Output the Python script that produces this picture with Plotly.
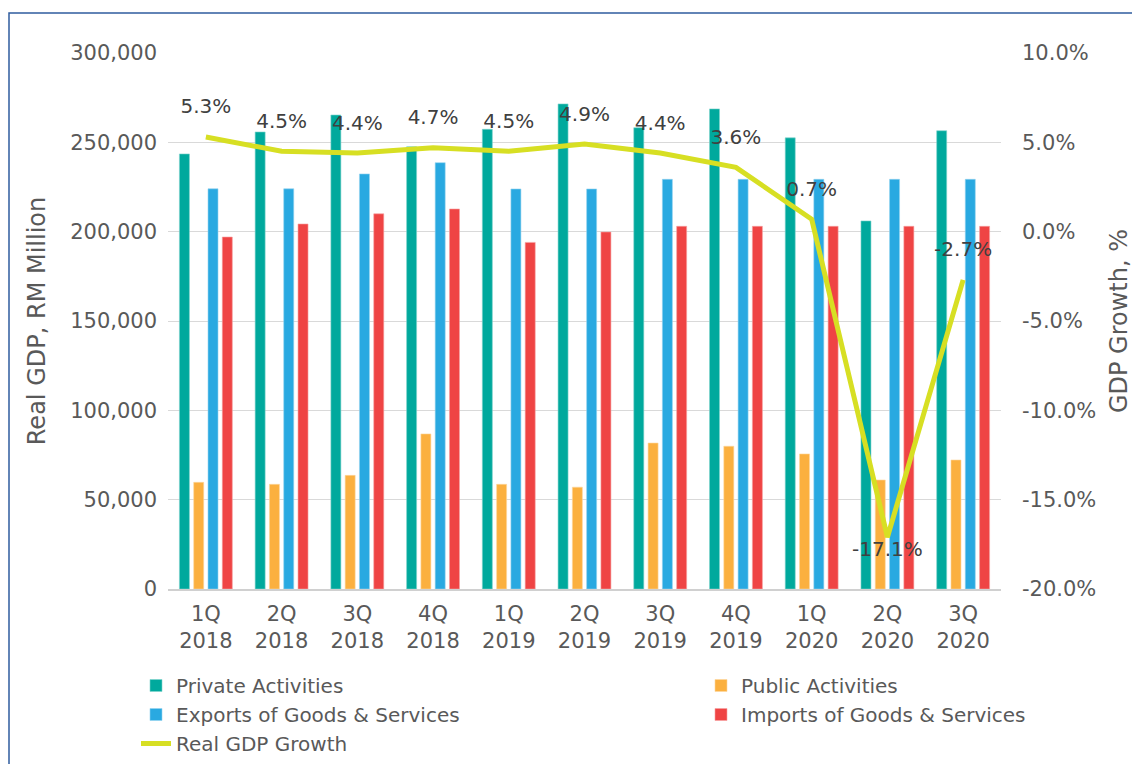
import plotly.graph_objects as go

quarters = ["1Q<br>2018", "2Q<br>2018", "3Q<br>2018", "4Q<br>2018",
            "1Q<br>2019", "2Q<br>2019", "3Q<br>2019", "4Q<br>2019",
            "1Q<br>2020", "2Q<br>2020", "3Q<br>2020"]
private_activities = [243500, 255800, 265300, 247500, 257300, 271500, 258200, 268700, 252500, 206000, 256500]
public_activities = [59700, 58600, 63600, 86800, 58600, 57000, 81700, 79900, 75600, 61000, 72200]
exports_gs = [224000, 224000, 232300, 238600, 223900, 223900, 229300, 229300, 229300, 229300, 229300]
imports_gs = [197000, 204300, 210000, 212700, 194000, 199800, 203000, 203000, 203000, 203000, 203000]
gdp_growth = [5.3, 4.5, 4.4, 4.7, 4.5, 4.9, 4.4, 3.6, 0.7, -17.1, -2.7]
growth_labels = [f"{v:.1f}%" for v in gdp_growth]

left_ticks = [0, 50000, 100000, 150000, 200000, 250000, 300000]
right_ticks = [-20, -15, -10, -5, 0, 5, 10]
right_tick_text = [f"{v:.1f}%" for v in right_ticks]

FONT = "DejaVu Sans"
GREY = "#595959"

fig = go.Figure()
fig.add_trace(go.Bar(name="Private Activities", x=quarters, y=private_activities,
                     marker=dict(color="#00A99D", line=dict(color="#7FD3CD", width=0.6)), legend="legend"))
fig.add_trace(go.Bar(name="Public Activities", x=quarters, y=public_activities,
                     marker=dict(color="#FBB03F", line=dict(color="#FDD79F", width=0.6)), legend="legend2"))
fig.add_trace(go.Bar(name="Exports of Goods & Services", x=quarters, y=exports_gs,
                     marker=dict(color="#29A9E1", line=dict(color="#94D4F0", width=0.6)), legend="legend"))
fig.add_trace(go.Bar(name="Imports of Goods & Services", x=quarters, y=imports_gs,
                     marker=dict(color="#EF4444", line=dict(color="#F7A1A1", width=0.6)), legend="legend2"))

text_pos = ["top center"] * len(gdp_growth)
text_pos[9] = "bottom center"
msize = [28] * len(gdp_growth)
msize[9] = 4
fig.add_trace(go.Scatter(name="Real GDP Growth", x=quarters, y=gdp_growth, yaxis="y2",
                         mode="lines+markers+text", text=growth_labels, textposition=text_pos,
                         textfont=dict(family=FONT, size=20, color="#404040"),
                         line=dict(color="#D7DF23", width=5),
                         marker=dict(size=msize, color="rgba(0,0,0,0)", line=dict(width=0)),
                         cliponaxis=False, legend="legend"))

# page body has an 8px margin, so the figure is 8px smaller than the window
fig.update_layout(
    width=1132, height=756,
    margin=dict(l=160, r=139, t=45, b=175, autoexpand=False),
    paper_bgcolor="white", plot_bgcolor="white",
    font=dict(family=FONT, size=21, color=GREY),
    barmode="group", bargap=0.245, bargroupgap=0.3,
    showlegend=True,
    xaxis=dict(range=[-0.5, len(quarters) - 0.5], autorange=False,
               showgrid=False, showline=True, linecolor="#D0D0D0", linewidth=1.5,
               ticks="", tickfont=dict(size=21, color=GREY), ticklabelstandoff=5, automargin=False),
    yaxis=dict(range=[0, 300000], tickvals=left_ticks, tickformat=",d",
               showgrid=True, gridcolor="#D9D9D9", gridwidth=1.3, zeroline=False,
               ticks="", ticklabelstandoff=10, tickfont=dict(size=21, color=GREY), automargin=False,
               title=dict(text="Real GDP, RM Million", font=dict(size=24, color=GREY), standoff=17)),
    yaxis2=dict(range=[-20, 10], tickvals=right_ticks, ticktext=right_tick_text,
                overlaying="y", side="right", showgrid=False, zeroline=False, automargin=False,
                ticks="", ticklabelstandoff=20, tickfont=dict(size=21, color=GREY),
                title=dict(text="GDP Growth, %", font=dict(size=24, color=GREY), standoff=14)),
    legend=dict(x=(136 - 168) / 833, y=-(666 - 589) / 536, xanchor="left", yanchor="top",
                orientation="v", font=dict(family=FONT, size=20, color=GREY),
                bgcolor="rgba(0,0,0,0)", itemwidth=30, tracegroupgap=0, traceorder="normal"),
    legend2=dict(x=(701 - 168) / 833, y=-(666 - 589) / 536, xanchor="left", yanchor="top",
                 orientation="v", font=dict(family=FONT, size=20, color=GREY),
                 bgcolor="rgba(0,0,0,0)", itemwidth=30, tracegroupgap=0, traceorder="normal"),
    shapes=[dict(type="rect", xref="paper", yref="paper",
                 x0=(9 - 168) / 833, x1=(1160 - 168) / 833,
                 y0=-(790 - 589) / 536, y1=1 + (53 - 13) / 536,
                 line=dict(color="#2F5C9E", width=1.5), fillcolor="rgba(0,0,0,0)", layer="below")],
)

fig.write_html("out.html")
